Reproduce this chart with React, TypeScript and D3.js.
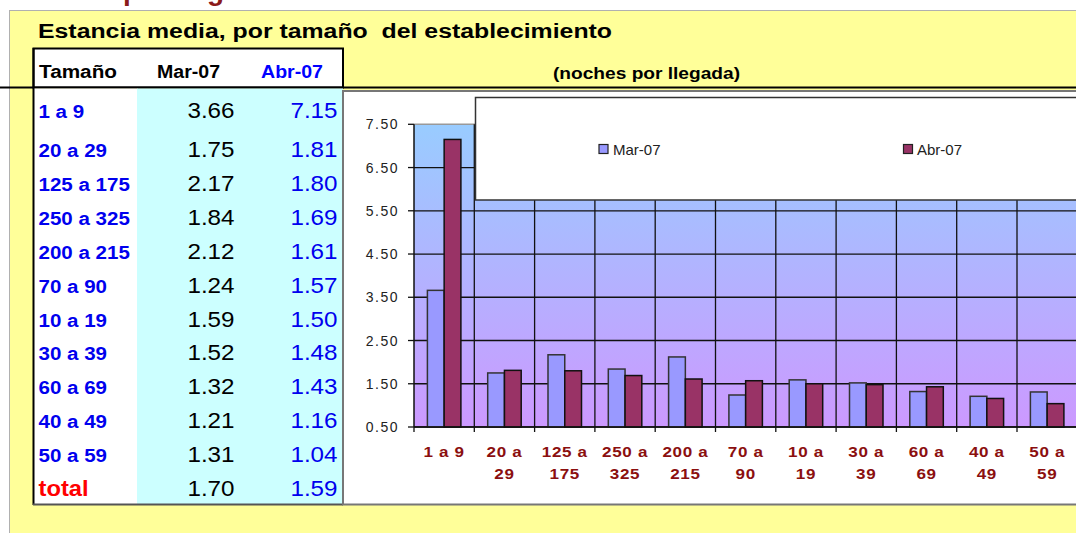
import React from "react";
import * as d3 from "d3";

const categories = ["1 a 9", "20 a 29", "125 a 175", "250 a 325", "200 a 215", "70 a 90", "10 a 19", "30 a 39", "60 a 69", "40 a 49", "50 a 59"];
const mar07 = [3.66, 1.75, 2.17, 1.84, 2.12, 1.24, 1.59, 1.52, 1.32, 1.21, 1.31];
const abr07 = [7.15, 1.81, 1.8, 1.69, 1.61, 1.57, 1.5, 1.48, 1.43, 1.16, 1.04];
const totalLabel = "total";
const totalMar = 1.7;
const totalAbr = 1.59;
const seriesNames = ["Mar-07", "Abr-07"];
const yTicks = [0.5, 1.5, 2.5, 3.5, 4.5, 5.5, 6.5, 7.5];

const W = 1076;
const H = 533;
const FONT = "'Liberation Sans', Arial, sans-serif";

const plotLeft = 414;
const bandW = 60.3;
const plotRight = plotLeft + bandW * categories.length;
const plotTop = 124.3;
const plotBottom = 427;

const colMar = "#9999FF";
const colAbr = "#993366";

function splitLabel(s: string): string[] {
  if (s.length <= 5) return [s];
  const i = s.lastIndexOf(" ");
  return [s.slice(0, i), s.slice(i + 1)];
}

function SText(props: { x: number; y: number; sx: number; anchor?: string; children: React.ReactNode; [k: string]: any }) {
  const { x, y, sx, anchor, children, ...rest } = props;
  return (
    <g transform={`translate(${x},${y}) scale(${sx},1)`}>
      <text x={0} y={0} textAnchor={anchor || "start"} {...rest}>{children}</text>
    </g>
  );
}

export default function App() {
  const x = d3.scaleBand<string>().domain(categories).range([plotLeft, plotRight]).paddingInner(0).paddingOuter(0);
  const gap = 13.4;
  const xs = d3.scaleBand<string>().domain(seriesNames).range([gap, x.bandwidth() - gap]).padding(0);
  const y = d3.scaleLinear().domain([0.5, 7.5]).range([plotBottom, plotTop]);
  const fmt = d3.format(".2f");

  const rowY = (i: number) => (i === 0 ? 118 : 157 + (i - 1) * 33.9);
  const rows = categories.map((c, i) => ({ c, m: mar07[i], a: abr07[i] }));

  const boundaries = d3.range(categories.length + 1).map((i) => plotLeft + i * x.bandwidth());

  return (
    <svg width={W} height={H} style={{ position: "absolute", left: 0, top: 0, fontFamily: FONT }}>
      <defs>
        <linearGradient id="plotGrad" x1="0" y1="0" x2="0" y2="1">
          <stop offset="0%" stopColor="#99CCFF" />
          <stop offset="100%" stopColor="#CC99FF" />
        </linearGradient>
      </defs>
      <rect x={0} y={0} width={W} height={H} fill="#FFFFFF" />
      {/* heading cut off by the top edge, as in the reference */}
      <text x={14} y={0} fontSize={28} fontWeight="bold" fill="#8B1A1A">Noches por llegada</text>
      {/* yellow sheet */}
      <rect x={9.5} y={10.5} width={W} height={H} fill="#FFFF99" stroke="#B0B0B0" strokeWidth={1} />
      <text x={38} y={38} fontSize={19.5} fontWeight="bold" fill="#000" textLength={574} lengthAdjust="spacingAndGlyphs" style={{ whiteSpace: "pre" }}>
        {"Estancia media, por tamaño  del establecimiento"}
      </text>

      {/* header box */}
      <rect x={33.5} y={48.5} width={309.5} height={39} fill="#FFFFFF" stroke="#000" strokeWidth={2} />
      <text x={39} y={78} fontSize={18} fontWeight="bold" fill="#000" textLength={78} lengthAdjust="spacingAndGlyphs">Tamaño</text>
      <text x={157} y={78} fontSize={18} fontWeight="bold" fill="#000" textLength={63} lengthAdjust="spacingAndGlyphs">Mar-07</text>
      <text x={261} y={78} fontSize={18} fontWeight="bold" fill="#0000FF" textLength={62} lengthAdjust="spacingAndGlyphs">Abr-07</text>
      <text x={553} y={79} fontSize={16} fontWeight="bold" fill="#000" textLength={187} lengthAdjust="spacingAndGlyphs">(noches por llegada)</text>
      <line x1={0} x2={W} y1={87.5} y2={87.5} stroke="#000" strokeWidth={2} />

      {/* table body */}
      <rect x={33.5} y={88.5} width={104} height={415.5} fill="#FFFFFF" />
      <rect x={137} y={88.5} width={206} height={415.5} fill="#CCFFFF" />
      <line x1={33.5} x2={33.5} y1={48} y2={505} stroke="#000" strokeWidth={2} />
      <line x1={33} x2={343} y1={504.5} y2={504.5} stroke="#555" strokeWidth={2} />
      {rows.map((r, i) => (
        <g key={r.c}>
          <SText x={38.5} y={rowY(i)} sx={1.11} fontSize={18.5} fontWeight="bold" fill="#0000EE">{r.c}</SText>
          <SText x={234.5} y={rowY(i)} sx={1.1} anchor="end" fontSize={22} fill="#000">{fmt(r.m)}</SText>
          <SText x={337.5} y={rowY(i)} sx={1.1} anchor="end" fontSize={22} fill="#0000EE">{fmt(r.a)}</SText>
        </g>
      ))}
      <SText x={38.5} y={rowY(categories.length)} sx={1.08} fontSize={22} fontWeight="bold" fill="#FF0000">{totalLabel}</SText>
      <SText x={234.5} y={rowY(categories.length)} sx={1.1} anchor="end" fontSize={22} fill="#000">{fmt(totalMar)}</SText>
      <SText x={337.5} y={rowY(categories.length)} sx={1.1} anchor="end" fontSize={22} fill="#0000EE">{fmt(totalAbr)}</SText>

      {/* chart box */}
      <rect x={343} y={91} width={W} height={413.5} fill="#FFFFFF" stroke="#777" strokeWidth={2} />

      {/* plot area */}
      <rect x={plotLeft} y={plotTop} width={plotRight - plotLeft} height={plotBottom - plotTop} fill="url(#plotGrad)" />
      <line x1={plotLeft} x2={plotRight} y1={plotTop} y2={plotTop} stroke="#999" strokeWidth={1.5} />
      {yTicks.slice(0, -1).map((t) => (
        <line key={t} x1={plotLeft} x2={plotRight} y1={y(t)} y2={y(t)} stroke="#111" strokeWidth={1.3} />
      ))}
      {boundaries.slice(1).map((b, i) => (
        <line key={i} x1={b} x2={b} y1={plotTop} y2={plotBottom} stroke="#111" strokeWidth={1.3} />
      ))}

      {/* bars */}
      {categories.map((c, i) => {
        const bx = x(c)!;
        const vals = [mar07[i], abr07[i]];
        return (
          <g key={c}>
            {seriesNames.map((s, j) => (
              <rect
                key={s}
                x={bx + xs(s)!}
                y={y(vals[j])}
                width={xs.bandwidth()}
                height={y(0.5) - y(vals[j])}
                fill={j === 0 ? colMar : colAbr}
                stroke={j === 0 ? "#333" : "#111"}
                strokeWidth={1.5}
              />
            ))}
          </g>
        );
      })}

      {/* axes */}
      <line x1={plotLeft} x2={plotLeft} y1={plotTop} y2={plotBottom} stroke="#111" strokeWidth={1.5} />
      <line x1={plotLeft} x2={plotRight} y1={plotBottom} y2={plotBottom} stroke="#111" strokeWidth={1.5} />
      {yTicks.map((t) => (
        <g key={t}>
          <line x1={408} x2={plotLeft} y1={y(t)} y2={y(t)} stroke="#111" strokeWidth={1.3} />
          <text x={399} y={y(t) + 5} fontSize={14} letterSpacing={1.5} textAnchor="end" fill="#222">{fmt(t)}</text>
        </g>
      ))}
      {boundaries.map((b, i) => (
        <line key={i} x1={b} x2={b} y1={plotBottom} y2={plotBottom + 5} stroke="#111" strokeWidth={1.3} />
      ))}
      {categories.map((c) => {
        const cx = x(c)! + x.bandwidth() / 2;
        return splitLabel(c).map((ln, k) => (
          <SText key={c + k} x={cx} y={457 + k * 21.5} sx={1.1} anchor="middle" fontSize={15.5} fontWeight="bold" letterSpacing={0.6} fill="#8B0F0F">{ln}</SText>
        ));
      })}

      {/* legend */}
      <rect x={475.5} y={97.5} width={W} height={102.5} fill="#FFFFFF" stroke="#333" strokeWidth={1.5} />
      <rect x={599} y={144.5} width={9} height={9} fill={colMar} stroke="#222" strokeWidth={1.2} />
      <text x={613} y={155} fontSize={15} fill="#222">{seriesNames[0]}</text>
      <rect x={903.5} y={144.5} width={9} height={9} fill={colAbr} stroke="#222" strokeWidth={1.2} />
      <text x={917} y={155} fontSize={15} fill="#222">{seriesNames[1]}</text>
    </svg>
  );
}
